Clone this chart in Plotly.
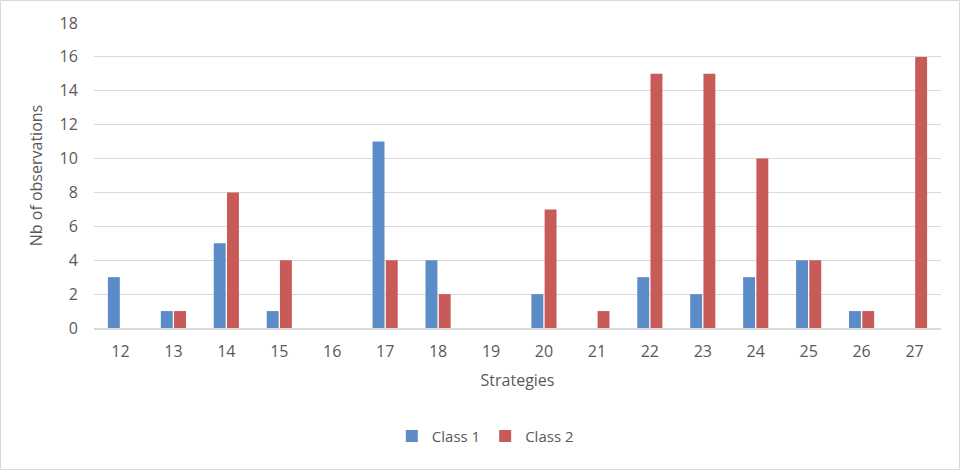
import plotly.graph_objects as go

strategies = ["12", "13", "14", "15", "16", "17", "18", "19", "20", "21", "22", "23", "24", "25", "26", "27"]
class1 = [3, 1, 5, 1, 0, 11, 4, 0, 2, 0, 3, 2, 3, 4, 1, 0]
class2 = [0, 1, 8, 4, 0, 4, 2, 0, 7, 1, 15, 15, 10, 4, 1, 16]
y_ticks = [0, 2, 4, 6, 8, 10, 12, 14, 16, 18]

W, H = 960, 470
L, R, T, B = 94, 19, 23, 142
pw, ph = W - L - R, H - T - B

font = dict(family="Open Sans, Liberation Sans, sans-serif", color="#595959", size=15)

fig = go.Figure()
fig.add_trace(go.Bar(x=strategies, y=class1, name="Class 1", marker_color="#5b8cc7", marker_line_width=0))
fig.add_trace(go.Bar(x=strategies, y=class2, name="Class 2", marker_color="#c85a57", marker_line_width=0))

fig.update_layout(
    width=W, height=H,
    margin=dict(l=L, r=R, t=T, b=B),
    paper_bgcolor="white", plot_bgcolor="white",
    font=font,
    barmode="group", bargap=0.5, bargroupgap=0.1,
    legend=dict(orientation="h", x=0.462, xanchor="center", y=-0.355, yanchor="middle",
                font=dict(size=15, color="#595959"), itemwidth=30),
    xaxis=dict(type="category", title=dict(text="Strategies", font=dict(size=16), standoff=14),
               showgrid=False, showline=True, linecolor="#d9d9d9", linewidth=1.5,
               ticks="outside", ticklen=8, tickcolor="rgba(0,0,0,0)", tickfont=dict(size=16)),
    yaxis=dict(range=[0, 18], tickvals=y_ticks, title=dict(text="Nb of observations", font=dict(size=16), standoff=12),
               showgrid=True, gridcolor="#d9d9d9", gridwidth=1, zeroline=False,
               ticks="outside", ticklen=12, tickcolor="rgba(0,0,0,0)", tickfont=dict(size=16)),
    shapes=[dict(type="rect", xref="paper", yref="paper",
                 x0=(0.5 - L) / pw, x1=(W - 0.5 - L) / pw,
                 y0=-(H - 0.5 - T - ph) / ph, y1=(ph + T - 0.5) / ph,
                 line=dict(color="#d9d9d9", width=1), layer="below")],
)

fig.write_html("out.html", config={"displayModeBar": False},
               post_script="document.body.style.margin='0';document.body.style.padding='0';document.body.style.overflow='hidden';")
